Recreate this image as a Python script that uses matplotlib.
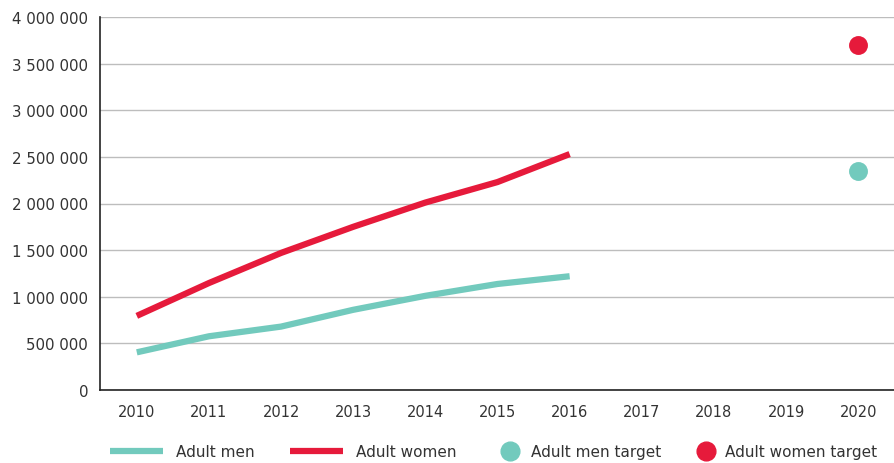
import matplotlib.pyplot as plt
from matplotlib.ticker import FuncFormatter
from matplotlib.lines import Line2D

# Adult participation figures, 2010-2016, with 2020 targets
years = [2010, 2011, 2012, 2013, 2014, 2015, 2016]
adult_men = [404000, 576000, 680000, 860000, 1010000, 1137000, 1220000]
adult_women = [795000, 1147000, 1470000, 1750000, 2010000, 2230000, 2530000]
target_year = 2020
men_target = 2350000
women_target = 3700000

all_years = list(range(2010, 2021))
y_ticks = list(range(0, 4000001, 500000))

teal = '#72CABD'
red = '#E61A3B'
text_col = '#333333'

plt.rcParams['font.family'] = ['DejaVu Sans']

fig = plt.figure(figsize=(8.95, 4.64), dpi=100)
ax = fig.add_axes([100 / 895, 73 / 464, 795 / 895, 373 / 464])

ax.plot(years, adult_men, color=teal, lw=4.5, solid_capstyle='butt', zorder=3)
ax.plot(years, adult_women, color=red, lw=4.5, solid_capstyle='butt', zorder=3)
ax.scatter([target_year], [men_target], s=185, color=teal, zorder=4, linewidths=0)
ax.scatter([target_year], [women_target], s=185, color=red, zorder=4, linewidths=0)

ax.set_xlim(2009.49, 2020.51)
ax.set_ylim(0, 4000000)
ax.set_xticks(all_years)
ax.set_yticks(y_ticks)
ax.yaxis.set_major_formatter(FuncFormatter(lambda v, p: f'{int(v):,}'.replace(',', ' ')))
ax.grid(axis='y', color='#BDBDBD', lw=1)
ax.set_axisbelow(True)
ax.tick_params(length=0, colors=text_col, pad=8.5)
ax.tick_params(axis='y', labelsize=10.8)
ax.tick_params(axis='x', labelsize=10.5, pad=10)
for s in ['top', 'right']:
    ax.spines[s].set_visible(False)
for s in ['left', 'bottom']:
    ax.spines[s].set_color('#222222')
    ax.spines[s].set_linewidth(1.2)

# legend entries laid out one by one along the bottom
line_kw = dict(lw=4.5, solid_capstyle='butt')
entries = [
    (Line2D([], [], color=teal, **line_kw), 'Adult men', 110, 3.45, 0.85),
    (Line2D([], [], color=red, **line_kw), 'Adult women', 290, 3.45, 0.85),
    (Line2D([], [], color=teal, lw=0, marker='o', markersize=13.5), 'Adult men target', 500, 1.3, 0.7),
    (Line2D([], [], color=red, lw=0, marker='o', markersize=13.5), 'Adult women target', 696, 1.3, 0.6),
]
for handle, label, left, hl, pad in entries:
    leg = fig.legend([handle], [label], loc='center left', bbox_to_anchor=(left / 895, 11 / 464),
                     frameon=False, fontsize=11, handlelength=hl, handletextpad=pad,
                     borderpad=0, borderaxespad=0, labelcolor=text_col)

fig.savefig('out.png', dpi=100)
